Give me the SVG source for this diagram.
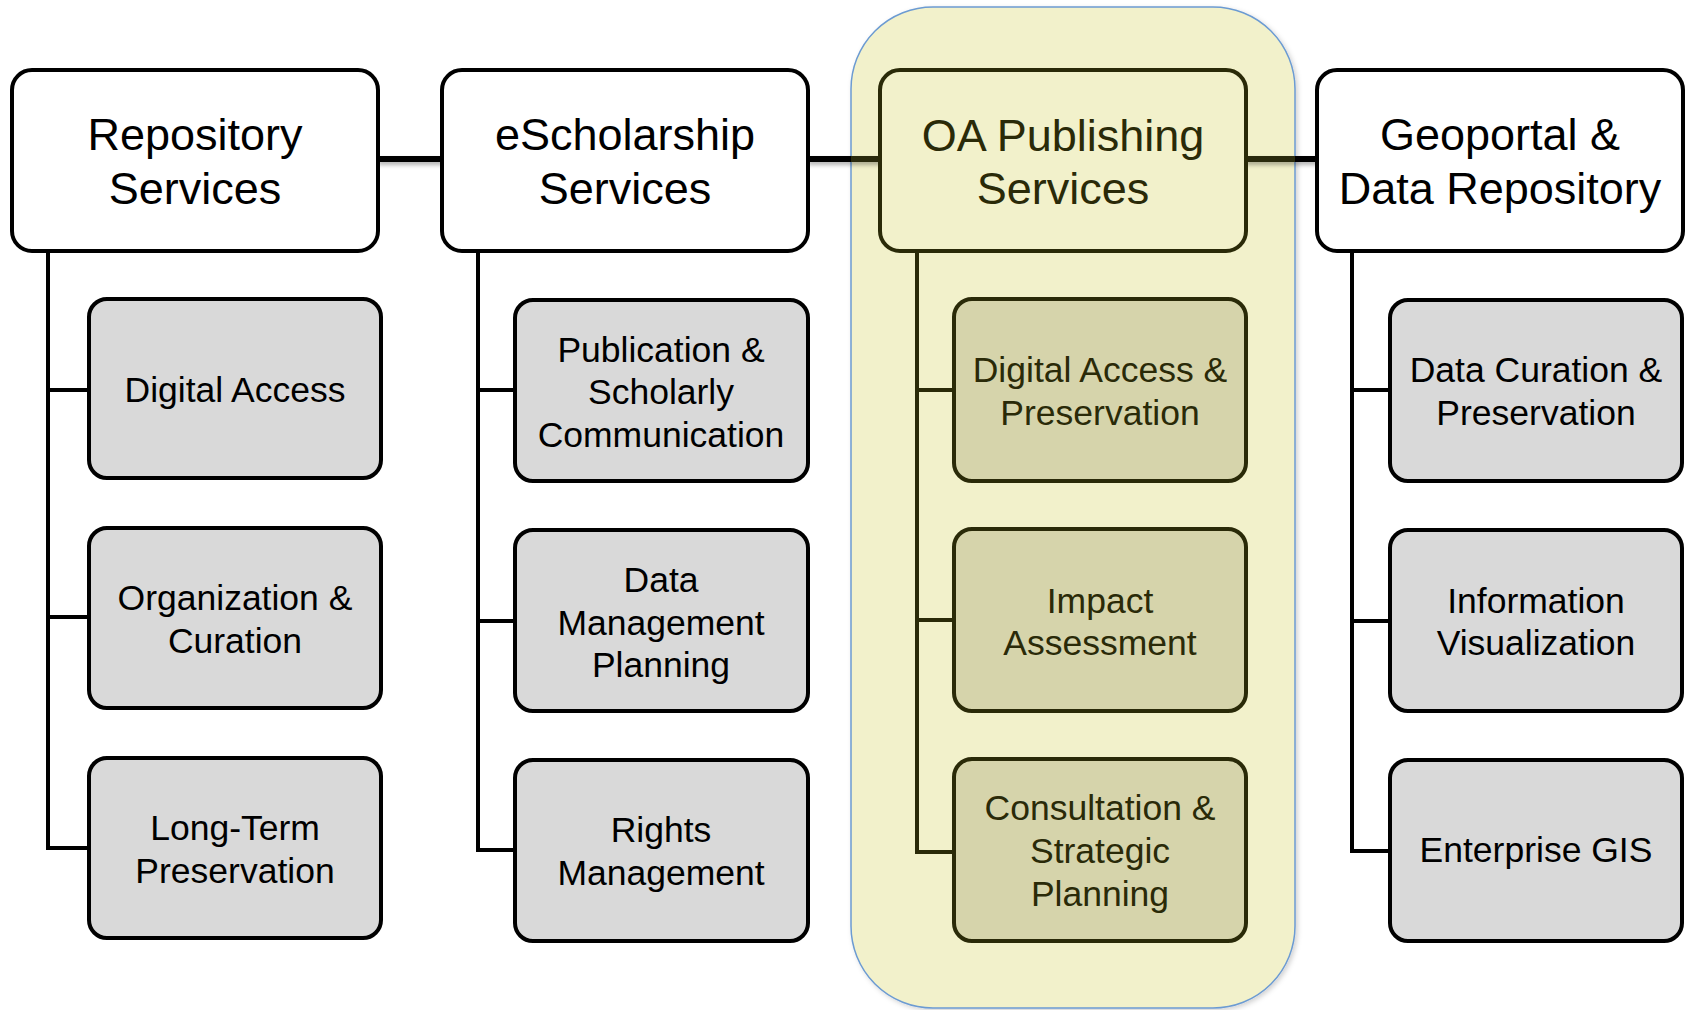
<svg xmlns="http://www.w3.org/2000/svg" width="1690" height="1010" viewBox="0 0 1690 1010">
<defs>
<filter id="shadow" filterUnits="userSpaceOnUse" x="0" y="140" width="1690" height="40">
<feDropShadow dx="2" dy="3" stdDeviation="2" flood-color="#000" flood-opacity="0.3"/>
</filter>
<filter id="hlshadow" x="-5%" y="-5%" width="115%" height="115%">
<feDropShadow dx="2" dy="2" stdDeviation="2.5" flood-color="#000" flood-opacity="0.18"/>
</filter>
</defs>
<style>
.hdr{fill:#ffffff;stroke:#000;stroke-width:4}
.sub{fill:#d9d9d9;stroke:#000;stroke-width:4}
.hdrY{fill:#f2f1cb;stroke:#2a2a08;stroke-width:4}
.subY{fill:#d6d4ab;stroke:#2a2a08;stroke-width:4}
.th{font-family:"Liberation Sans",Arial,sans-serif;font-size:45px;fill:#000;text-anchor:middle}
.ts{font-family:"Liberation Sans",Arial,sans-serif;font-size:35.5px;fill:#000;text-anchor:middle}
.y{fill:#2a2a08}
.link{fill:none;stroke:#000;stroke-width:6}
.linkY{fill:none;stroke:#2a2a08;stroke-width:6}
.tree{fill:none;stroke:#000;stroke-width:4;stroke-linejoin:miter}
.treeY{fill:none;stroke:#2a2a08;stroke-width:4;stroke-linejoin:miter}
</style>
<rect width="1690" height="1010" fill="#ffffff"/>
<g id="highlight">
<rect x="851" y="7" width="444" height="1001" rx="82" ry="82" fill="#f2f1cb" stroke="#6c9bd2" stroke-width="1.5" filter="url(#hlshadow)"/>
</g>
<g id="connectors">
<g filter="url(#shadow)">
<path class="link" d="M376,159 H444"/>
<path class="link" d="M806,159 H851"/>
<path class="linkY" d="M851,159 H882"/>
<path class="linkY" d="M1244,159 H1295"/>
<path class="link" d="M1295,159 H1319"/>
</g>
<path class="tree" d="M48,251 V848 H89 M48,390 H89 M48,617 H89"/>
<path class="tree" d="M478,251 V850 H515 M478,390 H515 M478,621 H515"/>
<path class="treeY" d="M917,251 V852 H954 M917,390 H954 M917,620 H954"/>
<path class="tree" d="M1352,251 V851 H1390 M1352,390 H1390 M1352,621 H1390"/>
</g>
<g id="repository-services">
<rect class="hdr" x="12" y="70" width="366" height="181" rx="20"/>
<text class="th" x="195" y="150">Repository</text>
<text class="th" x="195" y="204">Services</text>
</g>
<g id="digital-access">
<rect class="sub" x="89" y="299" width="292" height="179" rx="18"/>
<text class="ts" x="235" y="402">Digital Access</text>
</g>
<g id="organization-curation">
<rect class="sub" x="89" y="528" width="292" height="180" rx="18"/>
<text class="ts" x="235" y="610">Organization &amp;</text>
<text class="ts" x="235" y="653">Curation</text>
</g>
<g id="long-term-preservation">
<rect class="sub" x="89" y="758" width="292" height="180" rx="18"/>
<text class="ts" x="235" y="840">Long-Term</text>
<text class="ts" x="235" y="883">Preservation</text>
</g>
<g id="escholarship-services">
<rect class="hdr" x="442" y="70" width="366" height="181" rx="20"/>
<text class="th" x="625" y="150">eScholarship</text>
<text class="th" x="625" y="204">Services</text>
</g>
<g id="publication-scholarly-communication">
<rect class="sub" x="515" y="300" width="293" height="181" rx="18"/>
<text class="ts" x="661" y="362">Publication &amp;</text>
<text class="ts" x="661" y="404">Scholarly</text>
<text class="ts" x="661" y="447">Communication</text>
</g>
<g id="data-management-planning">
<rect class="sub" x="515" y="530" width="293" height="181" rx="18"/>
<text class="ts" x="661" y="592">Data</text>
<text class="ts" x="661" y="635">Management</text>
<text class="ts" x="661" y="677">Planning</text>
</g>
<g id="rights-management">
<rect class="sub" x="515" y="760" width="293" height="181" rx="18"/>
<text class="ts" x="661" y="842">Rights</text>
<text class="ts" x="661" y="885">Management</text>
</g>
<g id="oa-publishing-services">
<rect class="hdrY" x="880" y="70" width="366" height="181" rx="20"/>
<text class="th y" x="1063" y="151">OA Publishing</text>
<text class="th y" x="1063" y="204">Services</text>
</g>
<g id="digital-access-preservation">
<rect class="subY" x="954" y="299" width="292" height="182" rx="18"/>
<text class="ts y" x="1100" y="382">Digital Access &amp;</text>
<text class="ts y" x="1100" y="425">Preservation</text>
</g>
<g id="impact-assessment">
<rect class="subY" x="954" y="529" width="292" height="182" rx="18"/>
<text class="ts y" x="1100" y="613">Impact</text>
<text class="ts y" x="1100" y="655">Assessment</text>
</g>
<g id="consultation-strategic-planning">
<rect class="subY" x="954" y="759" width="292" height="182" rx="18"/>
<text class="ts y" x="1100" y="820">Consultation &amp;</text>
<text class="ts y" x="1100" y="863">Strategic</text>
<text class="ts y" x="1100" y="906">Planning</text>
</g>
<g id="geoportal-data-repository">
<rect class="hdr" x="1317" y="70" width="366" height="181" rx="20"/>
<text class="th" x="1500" y="150">Geoportal &amp;</text>
<text class="th" x="1500" y="204">Data Repository</text>
</g>
<g id="data-curation-preservation">
<rect class="sub" x="1390" y="300" width="292" height="181" rx="18"/>
<text class="ts" x="1536" y="382">Data Curation &amp;</text>
<text class="ts" x="1536" y="425">Preservation</text>
</g>
<g id="information-visualization">
<rect class="sub" x="1390" y="530" width="292" height="181" rx="18"/>
<text class="ts" x="1536" y="613">Information</text>
<text class="ts" x="1536" y="655">Visualization</text>
</g>
<g id="enterprise-gis">
<rect class="sub" x="1390" y="760" width="292" height="181" rx="18"/>
<text class="ts" x="1536" y="862">Enterprise GIS</text>
</g>
</svg>
